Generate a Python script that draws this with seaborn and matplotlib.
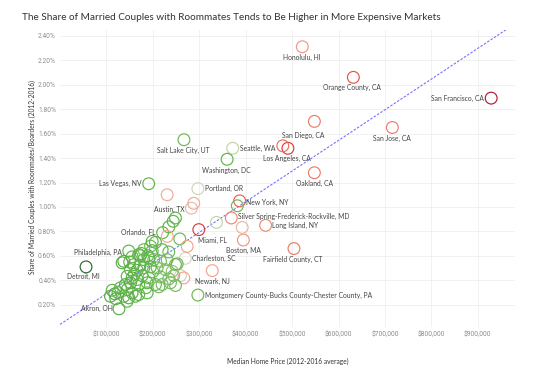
import pandas as pd
import matplotlib
matplotlib.use('Agg')
import matplotlib.pyplot as plt
import seaborn as sns
from matplotlib.colors import LinearSegmentedColormap
from matplotlib.ticker import FuncFormatter

# labeled metros: median home price ($), share of married couples w/ roommates (%), colour tone (-1 green .. 1 red)
metro = ['Honolulu, HI', 'Orange County, CA', 'San Francisco, CA', 'San Jose, CA', 'San Diego, CA',
         'Los Angeles, CA', 'Oakland, CA', 'Seattle, WA', 'Salt Lake City, UT', 'Washington, DC',
         'Las Vegas, NV', 'Portland, OR', 'Austin, TX', 'New York, NY', 'Silver Spring-Frederick-Rockville, MD',
         'Long Island, NY', 'Miami, FL', 'Boston, MA', 'Fairfield County, CT', 'Charleston, SC',
         'Newark, NJ', 'Montgomery County-Bucks County-Chester County, PA', 'Detroit, MI',
         'Philadelphia, PA', 'Orlando, FL', 'Akron, OH']
price = [522000, 632000, 929000, 716000, 548000,
         491000, 548000, 372000, 267000, 360000,
         191000, 297000, 283000, 387000, 369000,
         443000, 299000, 395000, 504000, 270000,
         328000, 297000, 56000,
         148000, 221000, 127000]
share = [2.31, 2.06, 1.89, 1.65, 1.70,
         1.48, 1.28, 1.48, 1.55, 1.39,
         1.19, 1.15, 0.99, 1.05, 0.91,
         0.85, 0.815, 0.73, 0.66, 0.58,
         0.48, 0.28, 0.51,
         0.64, 0.79, 0.167]
tone = [0.45, 0.7, 1.0, 0.55, 0.55,
        0.8, 0.55, -0.1, -0.45, -0.5,
        -0.5, -0.02, 0.2, 0.65, 0.5,
        0.5, 0.8, 0.45, 0.55, 0.0,
        0.4, -0.45, -1.0,
        -0.5, -0.5, -0.55]

# unlabeled metros
other_price = [480000, 230800, 288000, 382000, 337000, 392500,
               248700, 243800, 234300, 231000, 205600, 258000, 273900, 220000, 234300, 198500,
               189000, 173300, 155400, 180400, 133800, 158800, 180400, 201900, 216400, 230800,
               248700, 151700, 166200, 180400, 194800, 209300, 227200, 241600, 259500, 266600,
               144600, 155400, 166200, 176900, 191200, 216400, 234300, 245000, 140900, 151700,
               169600, 187700, 205600, 220000, 237900, 112300, 130200, 144600, 155400, 169600,
               187700, 212700, 248700, 108600, 137300, 148100, 162500, 144600, 198500, 169600,
               191200, 252400, 160000, 172000, 150000, 200000, 185000, 125000, 118000, 175000,
               195000, 137300, 120000]
other_share = [1.50, 1.10, 1.03, 1.01, 0.874, 0.833,
               0.91, 0.883, 0.837, 0.76, 0.711, 0.739, 0.678, 0.651, 0.632, 0.643,
               0.602, 0.602, 0.592, 0.651, 0.543, 0.529, 0.57, 0.57, 0.556, 0.57,
               0.529, 0.488, 0.482, 0.502, 0.51, 0.502, 0.488, 0.474, 0.439, 0.42,
               0.433, 0.42, 0.407, 0.439, 0.42, 0.428, 0.412, 0.439, 0.366, 0.38,
               0.366, 0.38, 0.366, 0.366, 0.38, 0.319, 0.339, 0.325, 0.298, 0.284,
               0.298, 0.347, 0.358, 0.27, 0.27, 0.257, 0.27, 0.229, 0.719, 0.611,
               0.584, 0.535, 0.45, 0.52, 0.55, 0.47, 0.34, 0.30, 0.29, 0.62,
               0.68, 0.556, 0.25]
other_tone = [0.6, 0.35, 0.35, -0.45, -0.1, 0.25,
              -0.5, -0.5, -0.5, 0.35, -0.5, -0.45, 0.4, -0.5, -0.45, -0.5,
              -0.5, -0.5, -0.5, -0.45, -0.55, -0.5, -0.5, -0.45, -0.4, -0.4,
              -0.45, -0.5, -0.5, -0.5, -0.5, -0.45, -0.35, -0.3, 0.05, 0.4,
              -0.5, -0.55, -0.5, -0.5, -0.45, -0.4, -0.4, -0.35, -0.55, -0.55,
              -0.5, -0.5, -0.45, -0.4, -0.4, -0.5, -0.5, -0.55, -0.55, -0.5,
              -0.5, -0.4, -0.4, -0.55, -0.5, -0.55, -0.5, -0.5, -0.5, -0.5,
              -0.5, -0.45, -0.5, -0.5, -0.5, -0.45, -0.5, -0.5, -0.55, -0.5,
              -0.45, -0.55, -0.55]

# trend line end points
trend_price = [0, 980000]
trend_share = [0.04, 2.497]

x_ticks = [100000, 200000, 300000, 400000, 500000, 600000, 700000, 800000, 900000]
y_ticks = [0.2, 0.4, 0.6, 0.8, 1.0, 1.2, 1.4, 1.6, 1.8, 2.0, 2.2, 2.4]

# label placement in pixels (dx, dy, ha)
label_pos = {
    'Honolulu, HI': (0, 10.5, 'center'), 'Orange County, CA': (-1, 10.5, 'center'),
    'San Francisco, CA': (-7, 0, 'right'), 'San Jose, CA': (0, 10.5, 'center'),
    'San Diego, CA': (-11, 14.5, 'center'), 'Los Angeles, CA': (-1, 10.5, 'center'),
    'Oakland, CA': (0, 11, 'center'), 'Seattle, WA': (7.5, 0, 'left'),
    'Salt Lake City, UT': (-1, 11, 'center'), 'Washington, DC': (-1, 10.7, 'center'),
    'Las Vegas, NV': (-7, 0, 'right'), 'Portland, OR': (7, 0, 'left'),
    'Austin, TX': (-7, 1, 'right'), 'New York, NY': (6.7, 1.5, 'left'),
    'Silver Spring-Frederick-Rockville, MD': (6.6, -1.5, 'left'), 'Long Island, NY': (6.7, 0, 'left'),
    'Miami, FL': (14, 11, 'center'), 'Boston, MA': (0, 10.7, 'center'),
    'Fairfield County, CT': (-1, 10.6, 'center'), 'Charleston, SC': (7, 0, 'left'),
    'Newark, NJ': (0, 10.6, 'center'), 'Montgomery County-Bucks County-Chester County, PA': (6.7, 0, 'left'),
    'Detroit, MI': (-3, 9.5, 'center'), 'Philadelphia, PA': (-7, 1.3, 'right'),
    'Orlando, FL': (-7, 0, 'right'), 'Akron, OH': (-6, 0, 'right'),
}

df = pd.DataFrame({'price': price + other_price,
                   'share': share + other_share,
                   'tone': tone + other_tone})

cmap = LinearSegmentedColormap.from_list('tab_rg', [
    (0.0, '#2b6a33'), (0.25, '#5fb549'), (0.45, '#c3d3a8'), (0.5, '#d9d3bd'),
    (0.7, '#f5a48f'), (0.88, '#e5443a'), (1.0, '#b01c35')])

sns.set_style('white')
plt.rcParams['font.family'] = ['Lato', 'DejaVu Sans']

fig, ax = plt.subplots(figsize=(5.56, 3.66), dpi=100)
fig.subplots_adjust(left=0.108, right=0.926, bottom=0.107, top=0.918)

sns.lineplot(x=trend_price, y=trend_share, ax=ax, color='#7471ff', lw=0.8,
             linestyle=(0, (2.2, 1.4)), zorder=3)
sns.scatterplot(data=df, x='price', y='share', hue='tone', palette=cmap, hue_norm=(-1, 1),
                s=72, linewidth=0.85, legend=False, ax=ax, zorder=4)
coll = ax.collections[-1]
coll.set_edgecolors(coll.get_facecolors())
coll.set_facecolors('none')

for name, x, y in zip(metro, price, share):
    dx, dy, ha = label_pos[name]
    ax.annotate(name, (x, y), xytext=(dx * 0.72, -dy * 0.72), textcoords='offset points',
                ha=ha, va='center', fontsize=4.9, color='#444444', zorder=5)

ax.set_xlim(0, 980000)
ax.set_ylim(0.02, 2.447)
ax.set_xticks(x_ticks)
ax.set_yticks(y_ticks)
ax.xaxis.set_major_formatter(FuncFormatter(lambda v, p: f'${v:,.0f}'))
ax.yaxis.set_major_formatter(FuncFormatter(lambda v, p: f'{v:.2f}%'))
ax.tick_params(axis='both', length=0, labelsize=4.8, labelcolor='#8c8c8c', pad=3)
for lab in ax.get_xticklabels() + ax.get_yticklabels():
    lab.set_family(['Roboto', 'DejaVu Sans'])
ax.grid(True, color='#efefef', lw=0.6)
ax.set_axisbelow(True)
for s in ax.spines.values():
    s.set_visible(False)
ax.set_xlabel('')
ax.set_ylabel('')

fig.text(0.04, 0.951, 'The Share of Married Couples with Roommates Tends to Be Higher in More Expensive Markets',
         ha='left', va='center', fontsize=7.2, color='#333333')
fig.text(0.0576, 0.516, 'Share of Married Couples with Roommates/Boarders (2012-2016)',
         rotation=90, ha='center', va='center', fontsize=4.8, color='#333333')
fig.text(0.518, 0.0137, 'Median Home Price (2012-2016 average)',
         ha='center', va='center', fontsize=4.8, color='#333333')

fig.savefig('out.png', dpi=100)
